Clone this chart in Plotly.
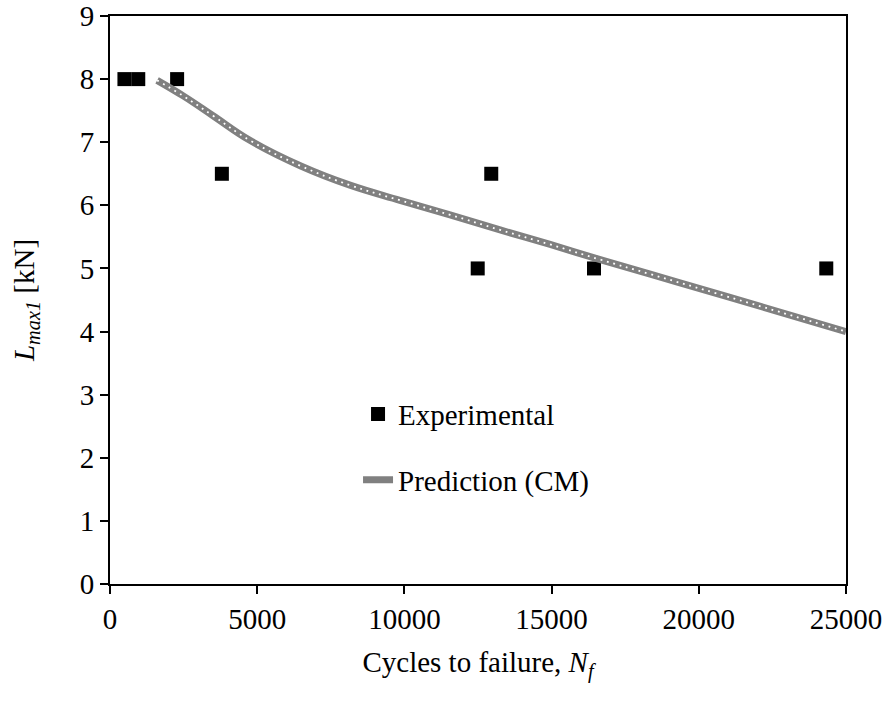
import plotly.graph_objects as go

# Measured fatigue data
exp_cycles = [490, 960, 2280, 3800, 12490, 12950, 16440, 24330]
exp_load = [8, 8, 8, 6.5, 5, 6.5, 5, 5]

# Cumulative damage model prediction
pred_cycles = [1600, 2500, 3500, 4750, 6500, 8150, 9850, 11550, 13250,
               14950, 16650, 18350, 21000, 25000]
pred_load = [7.98, 7.73, 7.42, 7.03, 6.62, 6.32, 6.08, 5.85, 5.61,
             5.38, 5.14, 4.91, 4.55, 4.0]

FONT = "Liberation Serif"
FS = 29

fig = go.Figure()

fig.add_trace(go.Scatter(
    x=exp_cycles, y=exp_load, mode="markers", name="Experimental",
    marker=dict(symbol="square", size=14, color="black"),
    legendgroup="a",
))
fig.add_trace(go.Scatter(
    x=pred_cycles, y=pred_load, mode="lines", name="Prediction (CM)",
    line=dict(color="#808080", width=7, shape="spline", smoothing=1.2),
    legendgroup="b",
))
fig.add_trace(go.Scatter(
    x=pred_cycles, y=pred_load, mode="lines", showlegend=False,
    line=dict(color="white", width=1.8, dash="1.8px,4.8px",
              shape="spline", smoothing=1.2),
    legendgroup="b", hoverinfo="skip",
))

axis_common = dict(
    showgrid=False, zeroline=False, showline=True, linecolor="black",
    linewidth=2, mirror=True, ticks="outside", ticklen=8, tickwidth=1.5,
    tickcolor="black", automargin=False,
    tickfont=dict(family=FONT, size=FS, color="black"),
)

fig.update_layout(
    width=887, height=708,
    margin=dict(l=110, r=41, t=16, b=124),
    paper_bgcolor="white", plot_bgcolor="white",
    font=dict(family=FONT, size=FS, color="black"),
    showlegend=True,
    legend=dict(
        x=0.337, y=0.344, xanchor="left", yanchor="top",
        bgcolor="rgba(0,0,0,0)", traceorder="grouped", tracegroupgap=25,
        font=dict(family=FONT, size=FS, color="black"),
    ),
    xaxis=dict(
        range=[0, 25000], tickvals=[0, 5000, 10000, 15000, 20000, 25000],
        ticktext=["0", "5000", "10000", "15000", "20000", "25000"],
        title=dict(text="Cycles to failure, <i>N<sub>f</sub></i>",
                   font=dict(family=FONT, size=FS), standoff=18),
        **axis_common,
    ),
    yaxis=dict(
        range=[0, 9], dtick=1,
        title=dict(text="<i>L<sub>max1</sub></i> [kN]",
                   font=dict(family=FONT, size=FS), standoff=37),
        **axis_common,
    ),
)

fig.write_html("out.html")
